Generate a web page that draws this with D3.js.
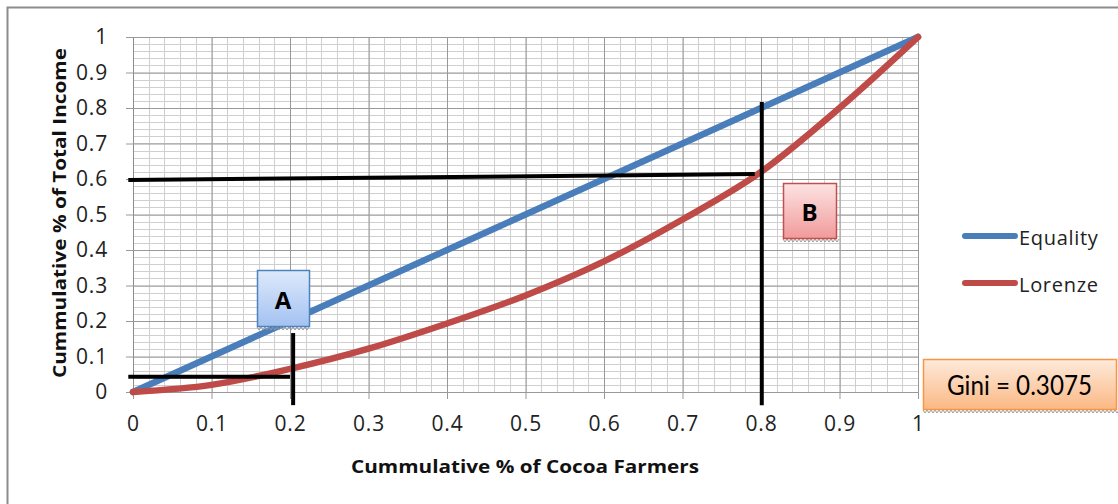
<!DOCTYPE html>
<html><head><meta charset="utf-8">
<script src="https://cdn.jsdelivr.net/npm/d3@7"></script>
<style>html,body{margin:0;padding:0;background:#fff;}svg{display:block;}</style>
</head><body>
<script>
// ---- data ----
const shares = [0, 0.1, 0.2, 0.3, 0.4, 0.5, 0.6, 0.7, 0.8, 0.9, 1];
const equality = [0, 0.1, 0.2, 0.3, 0.4, 0.5, 0.6, 0.7, 0.8, 0.9, 1];
const lorenze = [0, 0.02, 0.065, 0.122, 0.193, 0.272, 0.368, 0.486, 0.62, 0.8, 1];
const seriesNames = ["Equality", "Lorenze"];
const xTickLabels = ["0", "0.1", "0.2", "0.3", "0.4", "0.5", "0.6", "0.7", "0.8", "0.9", "1"];
const yTickLabels = ["0", "0.1", "0.2", "0.3", "0.4", "0.5", "0.6", "0.7", "0.8", "0.9", "1"];
// annotation guide lines (data coords): [x1,y1,x2,y2]
const guideLines = [
  [-0.006, 0.597, 0.792, 0.614],
  [0.801, 0.817, 0.801, -0.037],
  [-0.006, 0.043, 0.2, 0.043],
  [0.204, 0.166, 0.204, -0.037]
];
const labelA = "A", labelB = "B", giniText = "Gini = 0.3075";
const xTitle = "Cummulative % of Cocoa Farmers";
const yTitle = "Cummulative % of Total Income";

const W = 1118, H = 504;
const svg = d3.select("body").append("svg").attr("width", W).attr("height", H);
const font = "'Open Sans', sans-serif";

const defs = svg.append("defs");
function grad(id, c1, c2) {
  const g = defs.append("linearGradient").attr("id", id).attr("x1", 0).attr("y1", 0).attr("x2", 0).attr("y2", 1);
  g.append("stop").attr("offset", "0%").attr("stop-color", c1);
  g.append("stop").attr("offset", "100%").attr("stop-color", c2);
}
grad("gA", "#dde9fb", "#a3c2f2");
grad("gB", "#fde3e3", "#f19a9a");
grad("gG", "#fdeadb", "#fbb884");

// outer border (top + left)
svg.append("path").attr("d", `M7.5,${H} V7.5 H${W}`).attr("fill", "none").attr("stroke", "#8c8c8c").attr("stroke-width", 2);

const x = d3.scaleLinear().domain([0, 1]).range([133, 918]);
const y = d3.scaleLinear().domain([0, 1]).range([392, 37]);

const grid = svg.append("g");
const minor = d3.range(0, 1.0001, 0.02);
grid.selectAll(".mx").data(minor).join("line")
  .attr("x1", d => Math.round(x(d)) + 0.5).attr("x2", d => Math.round(x(d)) + 0.5)
  .attr("y1", y(1)).attr("y2", y(0)).attr("stroke", "#cfcfcf").attr("stroke-width", 1);
grid.selectAll(".my").data(minor).join("line")
  .attr("y1", d => Math.round(y(d)) + 0.5).attr("y2", d => Math.round(y(d)) + 0.5)
  .attr("x1", x(0)).attr("x2", x(1)).attr("stroke", "#cfcfcf").attr("stroke-width", 1);

const xAxis = d3.axisBottom(x).tickValues(d3.range(0, 11).map(i => i / 10))
  .tickFormat((d, i) => xTickLabels[i]).tickSize(-(y(0) - y(1))).tickPadding(24);
const gx = svg.append("g").attr("transform", `translate(0,${y(0)})`).call(xAxis);
gx.attr("font-size", 21).attr("font-family", font);
gx.select(".domain").attr("stroke", "#8c8c8c");
gx.selectAll(".tick line").attr("stroke", "#999").attr("y1", 7);
gx.selectAll(".tick text").attr("font-family", font).attr("font-size", 21).attr("letter-spacing", 0.8).attr("fill", "#222");

const yAxis = d3.axisLeft(y).tickValues(d3.range(0, 11).map(i => i / 10))
  .tickFormat((d, i) => yTickLabels[i]).tickSize(-(x(1) - x(0))).tickPadding(25);
const gy = svg.append("g").attr("transform", `translate(${x(0)},0)`).call(yAxis);
gy.attr("font-size", 21).attr("font-family", font);
gy.select(".domain").attr("stroke", "#8c8c8c");
gy.selectAll(".tick line").attr("stroke", "#999").attr("x1", -7);
gy.selectAll(".tick text").attr("font-family", font).attr("font-size", 21).attr("letter-spacing", 0.8).attr("fill", "#222");

// series
const line = d3.line().x((d, i) => x(shares[i])).y(d => y(d)).curve(d3.curveMonotoneX);
const colors = ["#4a7ebb", "#be4b48"];
[equality, lorenze].forEach((s, k) => {
  svg.append("path").attr("d", line(s)).attr("fill", "none").attr("stroke", colors[k])
    .attr("stroke-width", 6.5).attr("stroke-linecap", "round").attr("stroke-linejoin", "round");
});

// guides
svg.selectAll(".guide").data(guideLines).join("line")
  .attr("x1", d => x(d[0])).attr("y1", d => y(d[1])).attr("x2", d => x(d[2])).attr("y2", d => y(d[3]))
  .attr("stroke", "#000").attr("stroke-width", 4);

// boxes
function zig(x0, x1, yb, color) {
  let p = `M${x0},${yb}`;
  for (let xx = x0; xx < x1; xx += 4) p += ` L${xx + 2},${yb + 3} L${xx + 4},${yb}`;
  svg.append("path").attr("d", p).attr("fill", "none").attr("stroke", color).attr("stroke-width", 1);
}
function box(x0, y0, w, h, fill, stroke, txt, fs, bold, tl) {
  zig(x0, x0 + w, y0 + h + 1, "#9a9a9a");
  svg.append("rect").attr("x", x0 + 0.5).attr("y", y0 + 0.5).attr("width", w).attr("height", h)
    .attr("fill", `url(#${fill})`).attr("stroke", stroke).attr("stroke-width", 1.5);
  const t = svg.append("text").attr("x", x0 + w / 2).attr("y", y0 + h / 2 + 1).attr("text-anchor", "middle")
    .attr("dominant-baseline", "central").attr("font-family", bold ? "'Open Sans', sans-serif" : "Lato, sans-serif")
    .attr("font-weight", bold ? "bold" : "normal").attr("font-size", fs).attr("fill", "#000").text(txt);
  if (tl) t.attr("textLength", tl).attr("lengthAdjust", "spacingAndGlyphs");
}
box(257, 270, 52, 56, "gA", "#4f81bd", labelA, 24, true);
box(783, 183, 53, 55, "gB", "#c0504d", labelB, 24, true);
box(923, 359, 193, 50, "gG", "#f79646", giniText, 26, false, 145);

// legend
const leg = svg.append("g");
seriesNames.forEach((n, k) => {
  const ly = 236 + k * 47;
  leg.append("line").attr("x1", 965).attr("x2", 1015).attr("y1", ly).attr("y2", ly)
    .attr("stroke", colors[k]).attr("stroke-width", 6).attr("stroke-linecap", "round");
  leg.append("text").attr("x", 1019).attr("y", ly + 1).attr("dominant-baseline", "central")
    .attr("font-family", font).attr("font-size", 20).attr("letter-spacing", 0.7).attr("fill", "#222").text(n);
});

// titles
svg.append("text").attr("x", 525).attr("y", 466).attr("text-anchor", "middle").attr("dominant-baseline", "central")
  .attr("font-family", "'Open Sans', sans-serif").attr("font-weight", "bold").attr("font-size", 17).attr("fill", "#111")
  .attr("textLength", 348).attr("lengthAdjust", "spacingAndGlyphs").text(xTitle);
svg.append("text").attr("transform", "translate(59,213) rotate(-90)").attr("text-anchor", "middle").attr("dominant-baseline", "central")
  .attr("font-family", "'Open Sans', sans-serif").attr("font-weight", "bold").attr("font-size", 17).attr("fill", "#111")
  .attr("textLength", 330).attr("lengthAdjust", "spacingAndGlyphs").text(yTitle);
</script>
</body></html>
